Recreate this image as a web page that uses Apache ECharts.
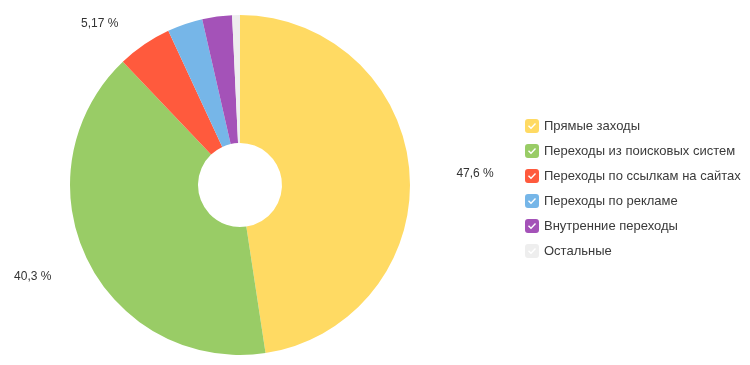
<!DOCTYPE html>
<html>
<head>
<meta charset="utf-8">
<script src="https://cdn.jsdelivr.net/npm/echarts@6/dist/echarts.min.js"></script>
<style>html,body{margin:0;padding:0;background:#fff}#c{width:750px;height:365px}</style>
</head>
<body>
<div id="c"></div>
<script>
const categories = ['Прямые заходы', 'Переходы из поисковых систем', 'Переходы по ссылкам на сайтах', 'Переходы по рекламе', 'Внутренние переходы', 'Остальные'];
const shares = [47.6, 40.3, 5.17, 3.36, 2.83, 0.74];
const showLabel = [true, true, true, false, false, false];
const colors = ['#FFDA63', '#99CC66', '#FF5A3D', '#76B6E8', '#A452B8', '#EEEEEE'];

const icon = 'path://M3,0 H11 A3,3 0 0 1 14,3 V11 A3,3 0 0 1 11,14 H3 A3,3 0 0 1 0,11 V3 A3,3 0 0 1 3,0 Z M3,7.3 L6,10.3 L11,4.9 L10,3.9 L6,8.3 L4,6.3 Z';

const chart = echarts.init(document.getElementById('c'));
chart.setOption({
  animation: false,
  color: colors,
  legend: {
    orient: 'vertical',
    left: 520,
    top: 114,
    itemWidth: 14,
    itemHeight: 14,
    itemGap: 11,
    icon: icon,
    textStyle: { fontFamily: 'Liberation Sans, Arial, sans-serif', fontSize: 13, color: '#3a3a3a' },
    data: categories
  },
  series: [{
    type: 'pie',
    center: [240, 185],
    radius: [42, 170],
    startAngle: 90,
    clockwise: true,
    avoidLabelOverlap: false,
    label: {
      position: 'outside',
      fontFamily: 'Liberation Sans, Arial, sans-serif',
      fontSize: 12,
      color: '#333',
      formatter: p => String(p.value).replace('.', ',') + ' %'
    },
    labelLine: { show: false, length: 30, length2: 8 },
    labelLayout: { dx: 4, dy: 4 },
    emphasis: { disabled: true },
    data: categories.map((n, i) => ({ name: n, value: shares[i], label: { show: showLabel[i] } }))
  }]
});
</script>
</body>
</html>
